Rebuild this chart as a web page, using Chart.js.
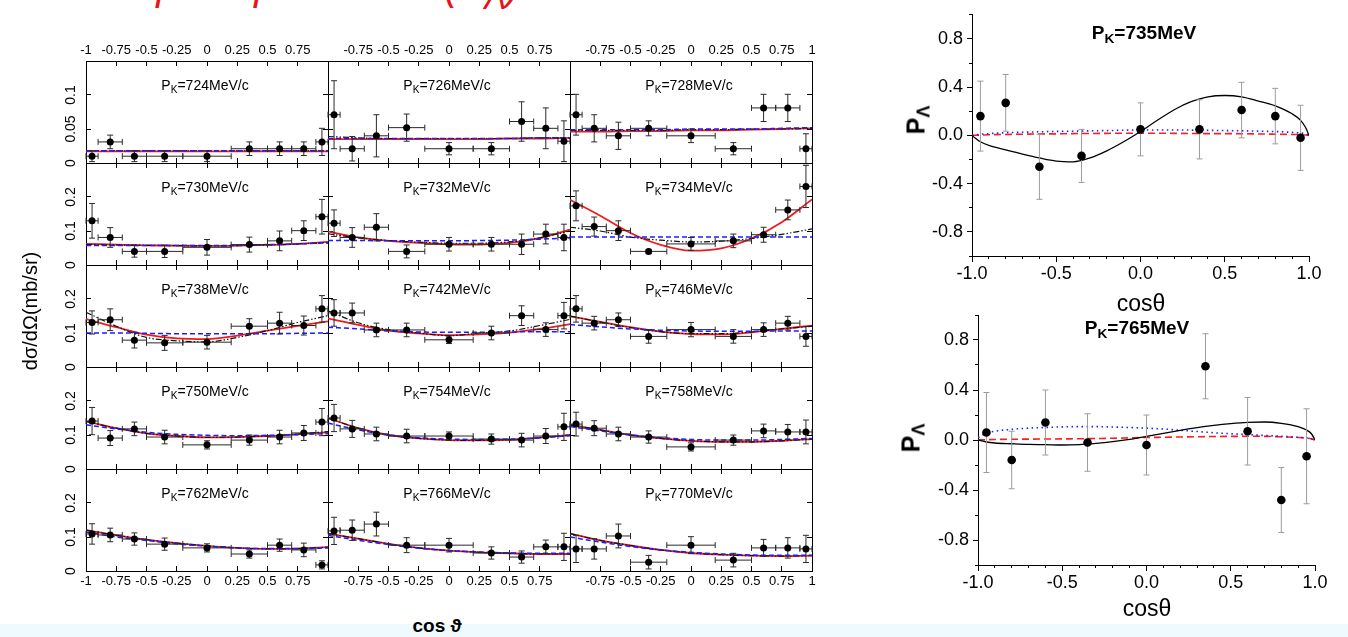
<!DOCTYPE html>
<html>
<head>
<meta charset="utf-8">
<script src="https://cdn.jsdelivr.net/npm/chart.js@4.4.0/dist/chart.umd.min.js"></script>
<style>
    body { margin: 0; width: 1348px; height: 637px; overflow: hidden; position: relative; background: #fff;
           font-family: 'Liberation Sans', Arial, sans-serif; color: #000; }
    canvas { position: absolute; }
    .lbl { position: absolute; white-space: nowrap; transform: translate(-50%, -50%); }
    .rot { transform: translate(-50%, -50%) rotate(-90deg); }
    .lbl sub { font-size: 72%; vertical-align: -0.3em; line-height: 0; }
    .ptitle { font-size: 14px; }
    .poltitle { font-size: 19px; font-weight: bold; }
    #strip { position: absolute; left: 0; top: 624px; width: 1348px; height: 13px; background: #eefafd; }
    #slideTitle { position: absolute; left: 110px; top: -44px; font-size: 40px; font-style: italic; color: #e8141b; white-space: nowrap; }
</style>
</head>
<body>
<div id="strip"></div>
<div id="slideTitle">K<sup>−</sup>p → ηΛ&nbsp; dσ/dΩ&nbsp; (P<sub>Λ</sub>)</div>
<script>
// --- differential cross sections, one row per beam momentum ---
const momenta = [724, 726, 728, 730, 732, 734, 738, 742, 746, 750, 754, 758, 762, 766, 770];
const cosBins = [-0.95, -0.8, -0.6, -0.35, 0, 0.35, 0.6, 0.8, 0.95];
const cosHalfWidth = [0.05, 0.1, 0.1, 0.15, 0.2, 0.15, 0.1, 0.1, 0.05];

const dsigData = [
    [0.010, 0.031, 0.010, 0.010, 0.010, 0.021, 0.021, 0.021, 0.031],
    [0.071, 0.021, 0.040, 0.052, 0.021, 0.021, 0.061, 0.051, 0.032],
    [0.071, 0.051, 0.040, 0.051, 0.040, 0.021, 0.081, 0.081, 0.021],
    [0.130, 0.081, 0.040, 0.040, 0.052, 0.060, 0.071, 0.101, 0.142],
    [0.123, 0.081, 0.111, 0.040, 0.061, 0.061, 0.061, 0.091, 0.081],
    [0.174, 0.113, 0.101, 0.040, 0.062, 0.071, 0.089, 0.162, 0.231],
    [0.131, 0.139, 0.079, 0.071, 0.073, 0.120, 0.129, 0.122, 0.171],
    [0.159, 0.159, 0.109, 0.109, 0.080, 0.100, 0.151, 0.110, 0.151],
    [0.171, 0.129, 0.139, 0.090, 0.110, 0.090, 0.110, 0.129, 0.090],
    [0.141, 0.091, 0.118, 0.094, 0.071, 0.085, 0.094, 0.106, 0.138],
    [0.150, 0.118, 0.103, 0.097, 0.097, 0.088, 0.085, 0.097, 0.124],
    [0.132, 0.120, 0.103, 0.094, 0.065, 0.085, 0.112, 0.109, 0.109],
    [0.109, 0.106, 0.094, 0.079, 0.068, 0.050, 0.076, 0.062, 0.018],
    [0.118, 0.120, 0.138, 0.076, 0.076, 0.053, 0.041, 0.071, 0.071],
    [0.065, 0.065, 0.103, 0.026, 0.076, 0.032, 0.068, 0.068, 0.065]
];
const dsigErr = [
    [0.008, 0.010, 0.008, 0.008, 0.008, 0.010, 0.010, 0.010, 0.020],
    [0.050, 0.018, 0.031, 0.020, 0.009, 0.009, 0.029, 0.030, 0.030],
    [0.030, 0.020, 0.020, 0.011, 0.010, 0.009, 0.020, 0.020, 0.022],
    [0.051, 0.029, 0.017, 0.018, 0.023, 0.022, 0.029, 0.029, 0.051],
    [0.039, 0.029, 0.040, 0.019, 0.020, 0.020, 0.030, 0.029, 0.039],
    [0.044, 0.028, 0.029, 0.006, 0.019, 0.020, 0.022, 0.029, 0.062],
    [0.034, 0.032, 0.023, 0.022, 0.020, 0.022, 0.032, 0.028, 0.039],
    [0.039, 0.029, 0.020, 0.020, 0.011, 0.020, 0.029, 0.020, 0.039],
    [0.039, 0.020, 0.020, 0.020, 0.021, 0.020, 0.020, 0.020, 0.029],
    [0.040, 0.022, 0.020, 0.020, 0.012, 0.015, 0.020, 0.022, 0.040],
    [0.040, 0.025, 0.020, 0.020, 0.012, 0.015, 0.020, 0.022, 0.040],
    [0.035, 0.022, 0.020, 0.018, 0.012, 0.015, 0.020, 0.022, 0.035],
    [0.030, 0.020, 0.018, 0.018, 0.012, 0.012, 0.018, 0.020, 0.012],
    [0.040, 0.030, 0.035, 0.022, 0.020, 0.018, 0.018, 0.020, 0.040],
    [0.040, 0.030, 0.035, 0.020, 0.025, 0.020, 0.025, 0.030, 0.040]
];

// model curves, sampled at curveCos
const curveCos = [-1, -0.75, -0.5, -0.25, 0, 0.25, 0.5, 0.75, 1];
const fitRed = [
    [0.017, 0.017, 0.017, 0.017, 0.017, 0.017, 0.017, 0.017, 0.017],
    [0.035, 0.035, 0.035, 0.035, 0.035, 0.035, 0.036, 0.036, 0.037],
    [0.046, 0.046, 0.047, 0.047, 0.048, 0.048, 0.049, 0.050, 0.051],
    [0.062, 0.060, 0.058, 0.057, 0.056, 0.057, 0.059, 0.062, 0.068],
    [0.098, 0.081, 0.071, 0.065, 0.061, 0.060, 0.065, 0.079, 0.104],
    [0.192, 0.145, 0.094, 0.059, 0.042, 0.049, 0.078, 0.126, 0.193],
    [0.141, 0.117, 0.095, 0.084, 0.082, 0.092, 0.107, 0.121, 0.134],
    [0.143, 0.124, 0.107, 0.099, 0.094, 0.096, 0.101, 0.112, 0.126],
    [0.149, 0.133, 0.117, 0.104, 0.097, 0.096, 0.102, 0.112, 0.122],
    [0.140, 0.120, 0.105, 0.097, 0.093, 0.094, 0.097, 0.102, 0.108],
    [0.150, 0.120, 0.100, 0.090, 0.085, 0.084, 0.086, 0.092, 0.100],
    [0.130, 0.115, 0.100, 0.090, 0.083, 0.080, 0.080, 0.083, 0.088],
    [0.120, 0.105, 0.092, 0.082, 0.074, 0.068, 0.065, 0.066, 0.070],
    [0.110, 0.095, 0.080, 0.068, 0.060, 0.055, 0.052, 0.050, 0.050],
    [0.110, 0.090, 0.075, 0.062, 0.053, 0.048, 0.045, 0.044, 0.045]
];
const fitBlue = [
    [0.018, 0.018, 0.018, 0.018, 0.018, 0.018, 0.018, 0.018, 0.018],
    [0.036, 0.036, 0.036, 0.036, 0.036, 0.036, 0.036, 0.037, 0.037],
    [0.049, 0.049, 0.049, 0.049, 0.050, 0.050, 0.050, 0.051, 0.052],
    [0.057, 0.057, 0.057, 0.057, 0.057, 0.058, 0.060, 0.062, 0.065],
    [0.072, 0.072, 0.071, 0.071, 0.071, 0.072, 0.073, 0.076, 0.080],
    [0.082, 0.082, 0.082, 0.082, 0.082, 0.082, 0.082, 0.082, 0.082],
    [0.100, 0.100, 0.099, 0.098, 0.098, 0.098, 0.098, 0.099, 0.100],
    [0.117, 0.112, 0.106, 0.103, 0.102, 0.102, 0.103, 0.104, 0.104],
    [0.125, 0.118, 0.112, 0.108, 0.106, 0.105, 0.105, 0.106, 0.106],
    [0.130, 0.118, 0.108, 0.102, 0.099, 0.098, 0.099, 0.101, 0.104],
    [0.135, 0.115, 0.100, 0.092, 0.088, 0.087, 0.088, 0.092, 0.098],
    [0.125, 0.112, 0.100, 0.092, 0.087, 0.085, 0.085, 0.087, 0.090],
    [0.115, 0.100, 0.090, 0.080, 0.073, 0.068, 0.066, 0.066, 0.068],
    [0.105, 0.090, 0.078, 0.067, 0.060, 0.056, 0.053, 0.052, 0.052],
    [0.100, 0.085, 0.072, 0.062, 0.055, 0.050, 0.047, 0.046, 0.046]
];
const fitBlack = [
    [0.018, 0.018, 0.018, 0.018, 0.018, 0.018, 0.018, 0.018, 0.018],
    [0.039, 0.037, 0.036, 0.036, 0.036, 0.036, 0.036, 0.037, 0.037],
    [0.048, 0.048, 0.048, 0.048, 0.049, 0.049, 0.050, 0.050, 0.051],
    [0.060, 0.059, 0.058, 0.057, 0.056, 0.057, 0.059, 0.062, 0.066],
    [0.092, 0.080, 0.072, 0.067, 0.064, 0.064, 0.068, 0.080, 0.100],
    [0.111, 0.100, 0.082, 0.073, 0.068, 0.070, 0.078, 0.090, 0.106],
    [0.161, 0.120, 0.087, 0.077, 0.074, 0.087, 0.107, 0.131, 0.151],
    [0.165, 0.130, 0.110, 0.100, 0.092, 0.100, 0.106, 0.122, 0.140],
    [0.150, 0.132, 0.116, 0.104, 0.098, 0.098, 0.103, 0.112, 0.120],
    [0.140, 0.120, 0.105, 0.097, 0.093, 0.094, 0.097, 0.103, 0.110],
    [0.150, 0.120, 0.100, 0.090, 0.085, 0.084, 0.086, 0.092, 0.100],
    [0.130, 0.115, 0.100, 0.090, 0.083, 0.080, 0.080, 0.083, 0.088],
    [0.120, 0.105, 0.092, 0.082, 0.074, 0.068, 0.065, 0.066, 0.070],
    [0.110, 0.095, 0.080, 0.068, 0.060, 0.055, 0.052, 0.050, 0.050],
    [0.110, 0.090, 0.075, 0.062, 0.053, 0.048, 0.045, 0.044, 0.045]
];

// tick values / labels of the grid panels
const gridTicks = [-1, -0.75, -0.5, -0.25, 0, 0.25, 0.5, 0.75, 1];
const gridTickLabels = [
    ['-1', '-0.75', '-0.5', '-0.25', '0', '0.25', '0.5', '0.75', ''],
    ['', '-0.75', '-0.5', '-0.25', '0', '0.25', '0.5', '0.75', ''],
    ['', '-0.75', '-0.5', '-0.25', '0', '0.25', '0.5', '0.75', '1']
];
const yTicksTop = [0, 0.05, 0.1];
const yTickLabelsTop = ['0', '0.05', '0.1'];
const yTicksLower = [0, 0.1, 0.2];
const yTickLabelsLower = ['0', '0.1', '0.2'];

// --- Lambda polarisation ---
const polCos = [-0.95, -0.8, -0.6, -0.35, 0, 0.35, 0.6, 0.8, 0.95];
const pol735 = [0.16, 0.27, -0.26, -0.17, 0.05, 0.05, 0.21, 0.16, -0.02];
const pol735Err = [0.29, 0.235, 0.27, 0.22, 0.22, 0.245, 0.23, 0.23, 0.27];
const pol765 = [0.06, -0.16, 0.14, -0.02, -0.04, 0.59, 0.07, -0.48, -0.13];
const pol765Err = [0.32, 0.23, 0.26, 0.23, 0.24, 0.26, 0.27, 0.26, 0.38];

const polCurveCos = [-1, -0.95, -0.9, -0.8, -0.7, -0.6, -0.5, -0.4, -0.3, -0.2, -0.1, 0, 0.1, 0.2, 0.3, 0.4, 0.5, 0.6, 0.7, 0.8, 0.9, 0.95, 0.98, 1];
const pol735Black = [0, -0.053, -0.083, -0.12, -0.155, -0.187, -0.213, -0.219, -0.187, -0.128, -0.053, 0.032, 0.125, 0.213, 0.28, 0.32, 0.331, 0.32, 0.285, 0.245, 0.179, 0.125, 0.065, 0];
const pol735Blue = [0, 0.01, 0.015, 0.022, 0.026, 0.03, 0.033, 0.035, 0.038, 0.04, 0.043, 0.045, 0.045, 0.045, 0.044, 0.042, 0.04, 0.038, 0.035, 0.032, 0.025, 0.02, 0.012, 0];
const pol735Red = [0, 0.003, 0.005, 0.008, 0.01, 0.012, 0.013, 0.015, 0.016, 0.017, 0.018, 0.018, 0.018, 0.017, 0.016, 0.015, 0.015, 0.014, 0.012, 0.01, 0.008, 0.006, 0.003, 0];
const pol765Black = [0, -0.016, -0.024, -0.03, -0.035, -0.037, -0.04, -0.037, -0.027, -0.013, 0.005, 0.029, 0.053, 0.077, 0.099, 0.117, 0.131, 0.141, 0.144, 0.133, 0.107, 0.08, 0.048, 0];
const pol765Blue = [0.02, 0.055, 0.07, 0.085, 0.095, 0.1, 0.105, 0.107, 0.107, 0.104, 0.1, 0.095, 0.088, 0.078, 0.068, 0.058, 0.05, 0.043, 0.036, 0.03, 0.022, 0.017, 0.01, 0];
const pol765Red = [0, 0.002, 0.004, 0.006, 0.007, 0.008, 0.009, 0.01, 0.012, 0.014, 0.017, 0.02, 0.022, 0.024, 0.026, 0.028, 0.029, 0.03, 0.029, 0.025, 0.02, 0.015, 0.008, 0];

const polXMajor = [-1, -0.5, 0, 0.5, 1];
const polXLabels = ['-1.0', '-0.5', '0.0', '0.5', '1.0'];
const polXMinor = [-1, -0.9, -0.8, -0.7, -0.6, -0.5, -0.4, -0.3, -0.2, -0.1, 0, 0.1, 0.2, 0.3, 0.4, 0.5, 0.6, 0.7, 0.8, 0.9, 1];
const polYMajor = [-0.8, -0.4, 0, 0.4, 0.8];
const polYLabels = ['-0.8', '-0.4', '0.0', '0.4', '0.8'];
const polYMinor = [-1, -0.8, -0.6, -0.4, -0.2, 0, 0.2, 0.4, 0.6, 0.8, 1];

// --- layout ---
const PW = 242, PH = 102;
const COL_LEFT = [86, 328, 570];
const ROW_TOP = [61, 163, 265, 367, 469];
const M = { l: 40, r: 12, t: 24, b: 24 };
const narrowFont = { family: "'Liberation Sans Narrow', 'Liberation Sans', Arial, sans-serif", size: 13 };

// error bars are drawn just before the point dataset, through the chart scales
const errorBars = {
    id: 'errorBars',
    beforeDatasetDraw(chart, args) {
        const ds = chart.data.datasets[args.index];
        if (!ds.errY) return;
        const { ctx } = chart;
        const x = chart.scales.x, y = chart.scales.y;
        const cap = ds.cap;
        ctx.save();
        ctx.strokeStyle = ds.errColor;
        ctx.lineWidth = 1;
        ctx.beginPath();
        ds.data.forEach((p, i) => {
            const px = x.getPixelForValue(p.x), py = y.getPixelForValue(p.y);
            const y1 = y.getPixelForValue(p.y - ds.errY[i]), y2 = y.getPixelForValue(p.y + ds.errY[i]);
            ctx.moveTo(px, y1); ctx.lineTo(px, y2);
            ctx.moveTo(px - cap, y1); ctx.lineTo(px + cap, y1);
            ctx.moveTo(px - cap, y2); ctx.lineTo(px + cap, y2);
            if (ds.errX) {
                const x1 = x.getPixelForValue(p.x - ds.errX[i]), x2 = x.getPixelForValue(p.x + ds.errX[i]);
                ctx.moveTo(x1, py); ctx.lineTo(x2, py);
                ctx.moveTo(x1, py - cap); ctx.lineTo(x1, py + cap);
                ctx.moveTo(x2, py - cap); ctx.lineTo(x2, py + cap);
            }
        });
        ctx.stroke();
        ctx.restore();
    }
};

// rotated y tick labels of the left column
const sideLabels = {
    id: 'sideLabels',
    afterDraw(chart, args, opts) {
        if (!opts.labels) return;
        const s = chart.scales.y, ctx = chart.ctx;
        ctx.save();
        ctx.font = "14px 'Liberation Sans', Arial, sans-serif";
        ctx.fillStyle = '#000';
        ctx.textAlign = 'center';
        ctx.textBaseline = 'middle';
        opts.values.forEach((v, i) => {
            ctx.save();
            ctx.translate(s.right - opts.offset, s.getPixelForValue(v));
            ctx.rotate(-Math.PI / 2);
            ctx.fillText(opts.labels[i], 0, 0);
            ctx.restore();
        });
        ctx.restore();
    }
};

function curve(xs, ys, color, dash, width) {
    return {
        type: 'line', data: xs.map((c, i) => ({ x: c, y: ys[i] })), showLine: true,
        borderColor: color, borderDash: dash, borderWidth: width, pointRadius: 0,
        fill: false, cubicInterpolationMode: 'monotone'
    };
}

function frameAxis(position, min, max, values, labels, showLabels, size) {
    return {
        type: 'linear', position, min, max,
        afterBuildTicks: s => { s.ticks = values.map(v => ({ value: v })); },
        afterFit: s => { if (s.isHorizontal()) s.height = size; else s.width = size; },
        grid: { drawOnChartArea: false, drawTicks: true, tickLength: -5, color: '#000', lineWidth: 1 },
        border: { display: true, color: '#000', width: 1 },
        ticks: {
            display: showLabels, autoSkip: false, maxRotation: 0, minRotation: 0, padding: 8,
            color: '#000', font: narrowFont, callback: (v, i) => labels[i]
        }
    };
}

function addLabel(html, x, y, cls, style) {
    const d = document.createElement('div');
    d.className = 'lbl ' + cls;
    d.innerHTML = html;
    d.style.left = x + 'px';
    d.style.top = y + 'px';
    if (style) d.style.cssText += style;
    document.body.appendChild(d);
}

function makePanel(k) {
    const col = k % 3, row = Math.floor(k / 3);
    const cv = document.createElement('canvas');
    cv.width = PW + M.l + M.r;
    cv.height = PH + M.t + M.b;
    cv.style.left = (COL_LEFT[col] - M.l) + 'px';
    cv.style.top = (ROW_TOP[row] - M.t) + 'px';
    document.body.appendChild(cv);

    const yMax = row === 0 ? 0.15 : 0.3;
    const yTicks = row === 0 ? yTicksTop : yTicksLower;
    const yLabels = row === 0 ? yTickLabelsTop : yTickLabelsLower;
    const xLabels = gridTickLabels[col];

    new Chart(cv, {
        type: 'scatter',
        data: {
            datasets: [
                {
                    data: cosBins.map((c, i) => ({ x: c, y: dsigData[k][i] })),
                    errY: dsigErr[k], errX: cosHalfWidth, errColor: '#2a2a2a', cap: 3,
                    pointRadius: 3.5, backgroundColor: '#000', borderWidth: 0
                },
                curve(curveCos, fitBlue[k], '#1c1cff', [5, 3], 1.5),
                curve(curveCos, fitBlack[k], '#111', [6, 2, 1.5, 2, 1.5, 2], 1.2),
                curve(curveCos, fitRed[k], '#ee1c1c', [], 1.8)
            ]
        },
        options: {
            responsive: false, animation: false, devicePixelRatio: 1, events: [],
            layout: { padding: 0 },
            plugins: {
                legend: { display: false }, tooltip: { enabled: false },
                sideLabels: col === 0 ? { values: yTicks, labels: yLabels, offset: 14.5 } : {}
            },
            scales: {
                x: frameAxis('bottom', -1, 1, gridTicks, xLabels, row === 4, M.b),
                x2: frameAxis('top', -1, 1, gridTicks, xLabels, row === 0, M.t),
                y: frameAxis('left', 0, yMax, yTicks, yLabels, false, M.l),
                y2: frameAxis('right', 0, yMax, yTicks, yLabels, false, M.r)
            }
        },
        plugins: [errorBars, sideLabels]
    });

    addLabel('P<sub>K</sub>=' + momenta[k] + 'MeV/c', COL_LEFT[col] + PW / 2 - 2, ROW_TOP[row] + 24, 'ptitle');
}

function polScales(yWidth, xHeight) {
    const font = { family: "'Liberation Sans', Arial, sans-serif", size: 18 };
    return {
        x: {
            type: 'linear', position: 'bottom', weight: 1, min: -1, max: 1,
            afterBuildTicks: s => { s.ticks = polXMajor.map(v => ({ value: v })); },
            afterFit: s => { s.height = xHeight; },
            grid: { drawOnChartArea: false, tickLength: 6, color: '#000' },
            border: { color: '#000', width: 1 },
            ticks: { autoSkip: false, maxRotation: 0, padding: 1, color: '#000', font, callback: (v, i) => polXLabels[i] }
        },
        xMinor: {
            type: 'linear', position: 'bottom', weight: 0, min: -1, max: 1,
            afterBuildTicks: s => { s.ticks = polXMinor.map(v => ({ value: v })); },
            afterFit: s => { s.height = 0; },
            grid: { drawOnChartArea: false, tickLength: 3, color: '#000' },
            border: { display: false },
            ticks: { display: false }
        },
        y: {
            type: 'linear', position: 'left', weight: 1, min: -1, max: 1,
            afterBuildTicks: s => { s.ticks = polYMajor.map(v => ({ value: v })); },
            afterFit: s => { s.width = yWidth; },
            grid: { drawOnChartArea: false, tickLength: 5, color: '#000' },
            border: { color: '#000', width: 1 },
            ticks: { autoSkip: false, padding: 4, color: '#000', font, callback: (v, i) => polYLabels[i] }
        },
        yMinor: {
            type: 'linear', position: 'left', weight: 0, min: -1, max: 1,
            afterBuildTicks: s => { s.ticks = polYMinor.map(v => ({ value: v })); },
            afterFit: s => { s.width = 0; },
            grid: { drawOnChartArea: false, tickLength: 3, color: '#000' },
            border: { display: false },
            ticks: { display: false }
        }
    };
}

function makePolPanel(box, pts, errs, black, blue, red) {
    const cv = document.createElement('canvas');
    cv.width = box.w;
    cv.height = box.h;
    cv.style.left = box.x + 'px';
    cv.style.top = box.y + 'px';
    document.body.appendChild(cv);
    new Chart(cv, {
        type: 'scatter',
        data: {
            datasets: [
                {
                    data: polCos.map((c, i) => ({ x: c, y: pts[i] })),
                    errY: errs, errColor: '#9c9c9c', cap: 3,
                    pointRadius: 4.3, backgroundColor: '#000', borderWidth: 0
                },
                curve(polCurveCos, black, '#000', [], 1.3),
                curve(polCurveCos, blue, '#1c1cff', [1.5, 3.5], 1.6),
                curve(polCurveCos, red, '#ff1c1c', [7, 4], 1.6)
            ]
        },
        options: {
            responsive: false, animation: false, devicePixelRatio: 1, events: [],
            layout: { padding: { top: box.pt, right: box.pr, left: 0, bottom: 0 } },
            plugins: { legend: { display: false }, tooltip: { enabled: false } },
            scales: polScales(box.yw, box.xh)
        },
        plugins: [errorBars]
    });
}

momenta.forEach((m, k) => makePanel(k));

makePolPanel({ x: 890, y: 0, w: 450, h: 290, pt: 6, pr: 31, yw: 82, xh: 34 },
    pol735, pol735Err, pol735Black, pol735Blue, pol735Red);
makePolPanel({ x: 890, y: 300, w: 450, h: 300, pt: 15, pr: 25, yw: 88, xh: 35 },
    pol765, pol765Err, pol765Black, pol765Blue, pol765Red);

// axis titles and panel titles
addLabel('dσ/dΩ(mb/sr)', 30, 311, 'rot', 'font-size:20px;');
addLabel('cos ϑ', 437, 626, '', 'font-size:19px;font-weight:bold;');
addLabel('P<sub>K</sub>=735MeV', 1144, 33, 'poltitle');
addLabel('P<sub>K</sub>=765MeV', 1137, 328, 'poltitle');
addLabel('P<sub>Λ</sub>', 916, 120, 'rot', 'font-size:25px;font-weight:bold;');
addLabel('P<sub>Λ</sub>', 911, 438, 'rot', 'font-size:25px;font-weight:bold;');
addLabel('cosθ', 1141, 303, '', 'font-size:23px;');
addLabel('cosθ', 1147, 608, '', 'font-size:23px;');
</script>
</body>
</html>
